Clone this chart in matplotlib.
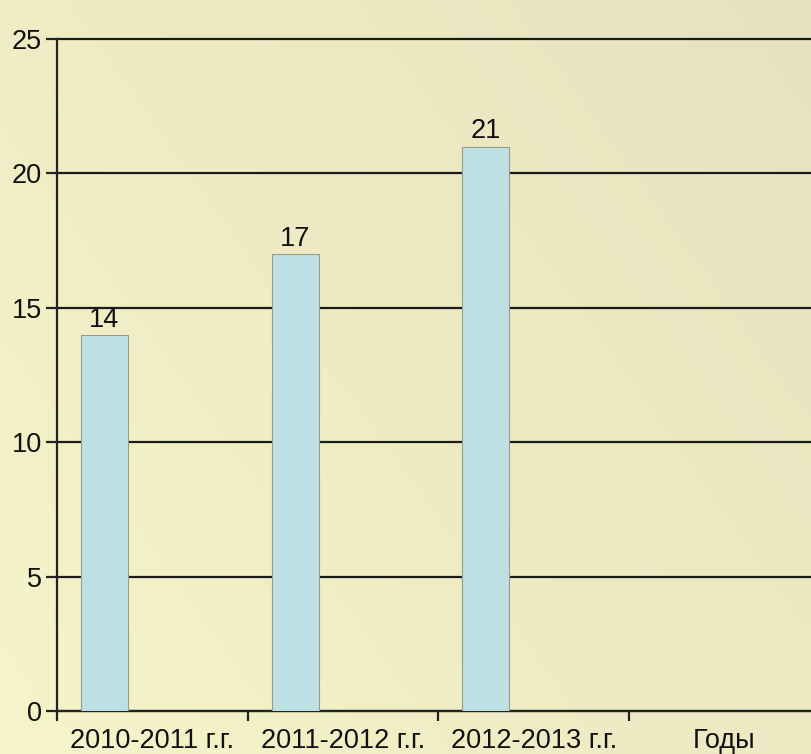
import matplotlib
matplotlib.use("Agg")
import matplotlib.pyplot as plt
import numpy as np

plt.rcParams['font.family'] = ['Liberation Sans', 'DejaVu Sans']

# data
categories = ["2010-2011 г.г.", "2011-2012 г.г.", "2012-2013 г.г.", "Годы"]
values = [14, 17, 21]
yticks = [0, 5, 10, 15, 20, 25]

W, H = 811, 754
fig = plt.figure(figsize=(W / 100, H / 100), dpi=100)

# background gradient (light yellow -> beige towards top right)
bg = fig.add_axes([0, 0, 1, 1], zorder=0)
gx, gy = np.meshgrid(np.linspace(0, 1, 200), np.linspace(0, 1, 200))
t = np.clip(0.6 * gx + 0.4 * (1 - gy), 0, 1)
c0 = np.array([246, 244, 202]) / 255
c1 = np.array([230, 226, 190]) / 255
img = c0[None, None, :] * (1 - t[..., None]) + c1[None, None, :] * t[..., None]
bg.imshow(img, aspect="auto", extent=[0, 1, 0, 1], origin="upper")
bg.axis("off")

# plot area, category width ~190.7 px; extends past right edge
left = 57 / W
bottom = (H - 711) / H
width = 4 * 190.7 / W
height = (711 - 39) / H
ax = fig.add_axes([left, bottom, width, height], zorder=1)
ax.patch.set_alpha(0)

x = np.arange(len(values))
bar_off = 0.126
bar_w = 0.246
bars = ax.bar(x + bar_off, values, width=bar_w, align="edge",
              color="#bde0e5", edgecolor="#9a9a8a", linewidth=0.8, zorder=3)
for b, v in zip(bars, values):
    ax.text(b.get_x() + b.get_width() / 2, v + 0.08, str(v),
            ha="center", va="bottom", fontsize=19.5, color="#111111", zorder=4)

ax.set_xlim(0, 4)
ax.set_ylim(0, 25)
ax.set_yticks(yticks)
ax.set_yticklabels([str(v) for v in yticks])
ax.yaxis.grid(True, color="#1a1a1a", linewidth=1.6, zorder=1)
ax.set_axisbelow(True)
for gl in ax.yaxis.get_gridlines():
    gl.set_clip_on(False)

ax.set_xticks(range(0, 5))
ax.set_xticklabels([])
ax.set_xticks(np.arange(4) + 0.5, minor=True)
ax.set_xticklabels(categories, minor=True)
ax.tick_params(axis="x", which="major", direction="out", length=7, width=1.6, color="#222222")
ax.tick_params(axis="x", which="minor", length=0, labelsize=19.5, pad=12, labelcolor="#111111")
ax.tick_params(axis="y", direction="out", length=8, width=1.6, color="#222222",
               labelsize=19.5, pad=3, labelcolor="#111111")

for s in ["top", "right"]:
    ax.spines[s].set_visible(False)
for s in ["left", "bottom"]:
    ax.spines[s].set_color("#222222")
    ax.spines[s].set_linewidth(1.6)

fig.savefig("out.png", dpi=100)
